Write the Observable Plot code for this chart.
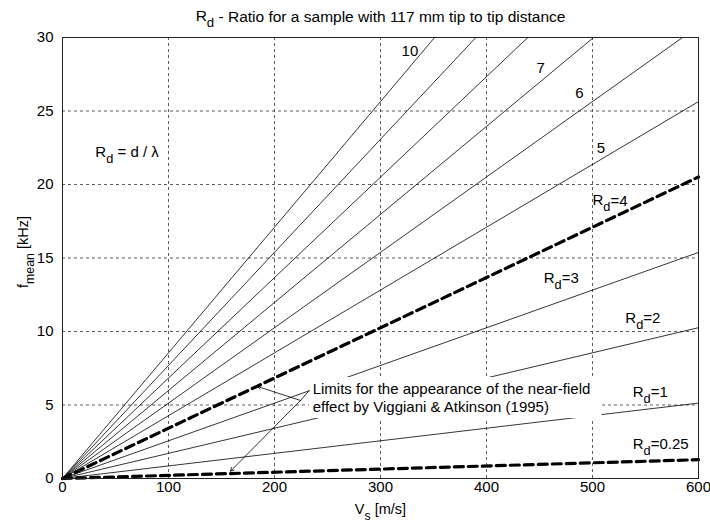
<!DOCTYPE html>
<html><head><meta charset="utf-8">
<script src="https://cdn.jsdelivr.net/npm/d3@7"></script>
<script src="https://cdn.jsdelivr.net/npm/@observablehq/plot@0.6"></script>
<style>body{margin:0;background:#fff} svg{display:block}</style>
</head><body><div id="chart"></div>
<script>
// ---- data ----
const rdValues = [10, 9, 8, 7, 6, 5, 4, 3, 2, 1, 0.25];
const vEnd     = [351, 390, 439, 501, 585, 600, 600, 600, 600, 600, 600];
const fEnd     = [30, 30, 30, 30, 30, 25.64, 20.51, 15.38, 10.26, 5.13, 1.28];
const thickRd  = [4, 0.25];

const xTicks = [0, 100, 200, 300, 400, 500, 600];
const yTicks = [0, 5, 10, 15, 20, 25, 30];
const xGrid = [100, 200, 300, 400, 500];
const yGrid = [5, 10, 15, 20, 25];

const lineLabels  = ["10", "7", "6", "5", "R_{d}=4", "R_{d}=3", "R_{d}=2", "R_{d}=1", "R_{d}=0.25", "R_{d} = d / λ"];
const labelV      = [327.8, 451, 487.7, 508, 500, 454, 531, 538, 538, 31];
const labelF      = [29.1, 27.9, 26.2, 22.5, 18.9, 13.6, 10.9, 5.85, 2.35, 22.2];
const labelAnchor = ["middle", "middle", "middle", "middle", "start", "start", "start", "start", "start", "start"];

const noteLines = ["Limits for the appearance of the near-field", "effect by Viggiani & Atkinson (1995)"];
const noteV = [236, 236];
const noteF = [6.05, 4.87];
const noteBox = {v1: 233, v2: 509, f1: 4.08, f2: 6.87};
const connector = [{v: 233, f: 6.0}, {v: 224.5, f: 5.31}];
const arrowFromV = [224.5, 224.5], arrowFromF = [5.31, 5.31];
const arrowToV   = [184, 158.5],   arrowToF   = [6.26, 0.5];

const titleText = "R_{d} - Ratio for a sample with 117 mm tip to tip distance";
const xLabel = "V_{s} [m/s]";
const yLabel = "f_{mean} [kHz]";

// ---- build tables ----
const lineRows = rdValues.flatMap((rd, i) => [{rd, v: 0, f: 0}, {rd, v: vEnd[i], f: fEnd[i]}]);
const thinRows = lineRows.filter(d => !thickRd.includes(d.rd));
const thickRows = lineRows.filter(d => thickRd.includes(d.rd));
const labels = lineLabels.map((t, i) => ({t, v: labelV[i], f: labelF[i], a: labelAnchor[i]}));
const notes = noteLines.map((t, i) => ({t, v: noteV[i], f: noteF[i]}));
const arrows = arrowFromV.map((_, i) => ({x1: arrowFromV[i], y1: arrowFromF[i], x2: arrowToV[i], y2: arrowToF[i]}));

const FONT = "'Liberation Sans', Arial, Helvetica, sans-serif";

const chart = Plot.plot({
  width: 710, height: 524,
  marginTop: 37, marginBottom: 46, marginLeft: 62, marginRight: 12,
  style: {fontFamily: FONT, fontSize: "15px", color: "#000", background: "#fff"},
  x: {domain: [0, 600], label: null},
  y: {domain: [0, 30], label: null},
  marks: [
    Plot.gridX(xGrid, {stroke: "#333", strokeOpacity: 1, strokeDasharray: "3,3", strokeWidth: 0.8}),
    Plot.gridY(yGrid, {stroke: "#333", strokeOpacity: 1, strokeDasharray: "3,3", strokeWidth: 0.8}),
    Plot.line(thinRows, {x: "v", y: "f", z: "rd", stroke: "#000", strokeWidth: 0.8}),
    Plot.line(thickRows, {x: "v", y: "f", z: "rd", stroke: "#000", strokeWidth: 3.2, strokeDasharray: "9,5"}),
    Plot.rect([noteBox], {x1: "v1", x2: "v2", y1: "f1", y2: "f2", fill: "white"}),
    Plot.text(labels.filter(d => d.a === "middle"), {x: "v", y: "f", text: "t", textAnchor: "middle", fontSize: 15, fill: "#000"}),
    Plot.text(labels.filter(d => d.a === "start"), {x: "v", y: "f", text: "t", textAnchor: "start", fontSize: 15, fill: "#000"}),
    Plot.text(notes, {x: "v", y: "f", text: "t", textAnchor: "start", fontSize: 15, fill: "#000"}),
    Plot.line(connector, {x: "v", y: "f", stroke: "#000", strokeWidth: 0.8}),
    Plot.arrow(arrows, {x1: "x1", y1: "y1", x2: "x2", y2: "y2", stroke: "#000", strokeWidth: 0.8, headLength: 7}),
    Plot.frame({stroke: "#222", strokeWidth: 1}),
    Plot.axisX(xTicks, {tickSize: 0, tickPadding: 3, fontSize: 15, label: null}),
    Plot.axisY(yTicks, {tickSize: 0, tickPadding: 9, fontSize: 15, label: null}),
    Plot.text([titleText], {frameAnchor: "top", textAnchor: "middle", lineAnchor: "middle", dy: -21, fontSize: 15.5, fill: "#000"}),
    Plot.text([xLabel], {frameAnchor: "bottom", textAnchor: "middle", lineAnchor: "middle", dy: 31, fontSize: 14.5, fill: "#000"}),
    Plot.text([yLabel], {frameAnchor: "left", textAnchor: "middle", lineAnchor: "middle", dx: -39, dy: -6, rotate: -90, fontSize: 14.5, fill: "#000"})
  ]
});

// subscripts: "_{...}" -> lowered tspan
function applySub(el) {
  const s = el.textContent;
  if (!s.includes("_{")) return;
  while (el.firstChild) el.removeChild(el.firstChild);
  const parts = s.split(/(_\{[^}]*\})/).filter(p => p.length);
  const NS = "http://www.w3.org/2000/svg";
  let lowered = false;
  for (const p of parts) {
    const ts = document.createElementNS(NS, "tspan");
    if (p.startsWith("_{")) {
      ts.textContent = p.slice(2, -1);
      ts.setAttribute("dy", "0.45em");
      ts.setAttribute("font-size", "0.85em");
      lowered = true;
    } else {
      ts.textContent = p;
      if (lowered) { ts.setAttribute("dy", "-0.38em"); lowered = false; }
    }
    el.appendChild(ts);
  }
}
chart.querySelectorAll("text").forEach(t => {
  const tsp = t.querySelectorAll("tspan");
  if (tsp.length) tsp.forEach(applySub); else applySub(t);
});
document.getElementById("chart").appendChild(chart);
</script>
</body></html>
